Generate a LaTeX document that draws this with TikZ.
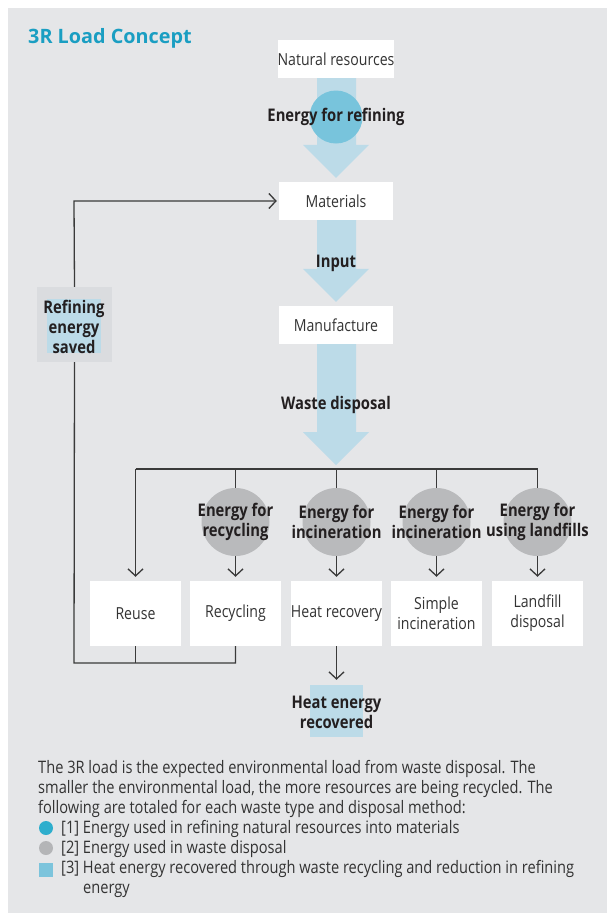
\documentclass[tikz,border=0pt]{standalone}
\usepackage{fontspec}
\setmainfont{Open Sans}[FakeStretch=0.85]
\newfontfamily\titlefont{Open Sans}
\usetikzlibrary{arrows.meta,calc}
\definecolor{bg}{HTML}{E5E6E8}
\definecolor{boxgray}{HTML}{DADCDF}
\definecolor{fatblue}{HTML}{BCDBE8}
\definecolor{circblue}{HTML}{78C4DC}
\definecolor{bulblue}{HTML}{2EAECD}
\definecolor{sqblue}{HTML}{7CC4DC}
\definecolor{circgray}{HTML}{B9BABC}
\definecolor{bulgray}{HTML}{B4B5B7}
\definecolor{titleblue}{HTML}{1A9EC2}
\definecolor{txt}{HTML}{333333}
\definecolor{btxt}{HTML}{231F20}
\definecolor{ln}{HTML}{3A3A3A}
\tikzset{
  tbox/.style={fill=white, minimum width=114, minimum height=38, inner sep=0pt,
    text=txt, font=\fontsize{16.6}{20}\selectfont},
  dbox/.style={fill=white, minimum width=91, minimum height=65, inner sep=0pt,
    text=txt, align=center, font=\fontsize{16.6}{20}\selectfont},
  blabel/.style={inner sep=0pt, text=btxt, align=center,
    font=\fontsize{17.4}{20}\bfseries\selectfont},
  gcirc/.style={circle, fill=circgray, minimum size=68, inner sep=0pt},
  conn/.style={draw=ln, line width=1.3},
  arr/.style={conn, -{Straight Barb[length=7,width=15,line width=1.3]}},
  fat/.style={fill=fatblue},
  para/.style={anchor=base west, inner sep=0pt, text=txt,
    font=\fontsize{17.2}{20}\selectfont},
}
\begin{document}
\begin{tikzpicture}[x=1pt,y=-1pt]
\useasboundingbox (0,0) rectangle (607,913);
\fill[white] (0,0) rectangle (607,913);
\fill[bg] (8,8) rectangle (607,913);

% title
\node[anchor=base west, inner sep=0pt, text=titleblue,
  font=\titlefont\fontsize{19.8}{22}\bfseries\selectfont] (title) at (28,43) {3R Load Concept};

% main column boxes
\node[tbox] (nat) at (336,59) {Natural resources};
\node[tbox] (mat) at (336,201) {Materials};
\node[tbox] (manu) at (336,325) {Manufacture};

% bus coordinates
\coordinate (b1) at (135.5,469);
\coordinate (b2) at (235.5,469);
\coordinate (b3) at (336.5,469);
\coordinate (b4) at (436.5,469);
\coordinate (b5) at (537.5,469);

% fat arrows
\fill[fat] ($(nat.south)+(-19,0)$) -- ($(mat.north)+(-19,-37)$) -- ($(mat.north)+(-33,-37)$)
  -- ($(mat.north)+(0,-4)$) -- ($(mat.north)+(33,-37)$) -- ($(mat.north)+(20,-37)$)
  -- ($(nat.south)+(20,0)$) -- cycle;
\fill[fat] ($(mat.south)+(-19,0)$) -- ($(manu.north)+(-19,-37)$) -- ($(manu.north)+(-33,-37)$)
  -- ($(manu.north)+(0,-4)$) -- ($(manu.north)+(33,-37)$) -- ($(manu.north)+(20,-37)$)
  -- ($(mat.south)+(20,0)$) -- cycle;
\fill[fat] ($(manu.south)+(-19,0)$) -- ($(b3)+(-19.5,-37)$) -- ($(b3)+(-33.5,-37)$)
  -- ($(b3)+(-0.5,-4)$) -- ($(b3)+(32.5,-37)$) -- ($(b3)+(19.5,-37)$)
  -- ($(manu.south)+(20,0)$) -- cycle;

\node[circle, fill=circblue, minimum size=53, inner sep=0pt] (bcirc) at (336,117) {};
\node[blabel] (eref) at (bcirc) {Energy for refining};
\node[blabel] (input) at (336,263) {Input};
\node[blabel] (wdisp) at (336,405) {Waste disposal};

% disposal boxes
\node[dbox] (reuse) at (135.5,613.5) {Reuse};
\node[dbox] (recyc) at (235.5,613.5) {Recycling};
\node[dbox] (heat) at (336.5,613.5) {Heat recovery};
\node[dbox] (simple) at (436.5,613.5) {Simple\\incineration};
\node[dbox] (land) at (537.5,613.5) {Landfill\\disposal};

% energy circles
\node[gcirc] (c2) at (235.5,522) {};
\node[gcirc] (c3) at (336.5,522) {};
\node[gcirc] (c4) at (436.5,522) {};
\node[gcirc] (c5) at (537.5,522) {};

% bus lines
\draw[conn] (b1) -- (b5);
\draw[conn] (b2) -- (c2);
\draw[conn] (b3) -- (c3);
\draw[conn] (b4) -- (c4);
\draw[conn] (b5) -- (c5);
\draw[arr, shorten >=4pt] (b1) -- (reuse.north);
\draw[arr, shorten >=4pt] (c2) -- (recyc.north);
\draw[arr, shorten >=4pt] (c3) -- (heat.north);
\draw[arr, shorten >=4pt] (c4) -- (simple.north);
\draw[arr, shorten >=4pt] (c5) -- (land.north);

\node[blabel] at (c2) {Energy for\\recycling};
\node[blabel] at (c3) {Energy for\\incineration};
\node[blabel] at (c4) {Energy for\\incineration};
\node[blabel] at (c5) {Energy for\\using landfills};

% refining energy saved
\node[fill=boxgray, minimum width=75, minimum height=75, inner sep=0pt] (refsave) at (74.5,324.5) {};
\node[fill=fatblue, minimum width=54, minimum height=54, inner sep=0pt] (refblue) at (74,326) {};
\node[blabel] (reftxt) at (74,327) {Refining\\energy\\saved};

\coordinate (L1) at (74,663);
\coordinate (L2) at (74,201);
\draw[conn] (reuse.south) -- (reuse.south |- L1);
\draw[conn] (recyc.south) |- (L1) -- (refsave.south);
\draw[arr, shorten >=2pt] (refsave.north) -- (L2) -- (mat.west);

% heat energy recovered
\node[fill=fatblue, minimum width=53, minimum height=52, inner sep=0pt] (hrbox) at (336.5,711) {};
\node[blabel] (hrtxt) at (336.5,712) {Heat energy\\recovered};
\draw[arr, shorten >=5pt] (heat.south) -- (hrbox.north);

% explanatory text
\node[para] (p1) at (38,773) {The 3R load is the expected environmental load from waste disposal. The};
\node[para] (p2) at (38,793) {smaller the environmental load, the more resources are being recycled. The};
\node[para] (p3) at (38,813) {following are totaled for each waste type and disposal method:};
\node[circle, fill=bulblue, minimum size=14, inner sep=0pt] (k1) at (46,828) {};
\node[para] (t1) at (61,833) {[1] Energy used in refining natural resources into materials};
\node[circle, fill=bulgray, minimum size=14, inner sep=0pt] (k2) at (46,848) {};
\node[para] (t2) at (61,853) {[2] Energy used in waste disposal};
\node[fill=sqblue, minimum size=14, inner sep=0pt] (k3) at (46,869.5) {};
\node[para] (t3) at (61,873) {[3] Heat energy recovered through waste recycling and reduction in refining};
\node[para] (t3b) at (83,893) {energy};
\end{tikzpicture}
\end{document}
